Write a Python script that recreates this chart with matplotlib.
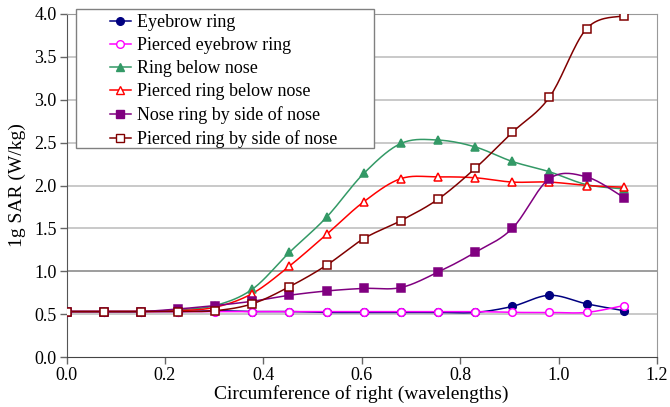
import numpy as np
import matplotlib
matplotlib.use("Agg")
import matplotlib.pyplot as plt
from matplotlib.lines import Line2D
from matplotlib.patches import Rectangle

plt.rcParams['font.family'] = ['Liberation Serif', 'DejaVu Serif']

# circumference (wavelengths)
x = [0.0, 0.0755, 0.151, 0.2265, 0.302, 0.3775, 0.453, 0.5285,
     0.604, 0.6795, 0.755, 0.8305, 0.906, 0.9815, 1.057, 1.1325]

eyebrow = [0.53, 0.53, 0.53, 0.53, 0.54, 0.53, 0.53, 0.52,
           0.52, 0.52, 0.52, 0.52, 0.59, 0.72, 0.62, 0.54]
pierced_eyebrow = [0.53, 0.53, 0.53, 0.53, 0.53, 0.53, 0.53, 0.53,
                   0.53, 0.53, 0.53, 0.53, 0.52, 0.52, 0.52, 0.60]
below_nose = [0.53, 0.53, 0.53, 0.55, 0.60, 0.79, 1.22, 1.63,
              2.14, 2.49, 2.53, 2.45, 2.28, 2.16, 2.01, 1.96]
pierced_below_nose = [0.53, 0.53, 0.53, 0.54, 0.58, 0.74, 1.06, 1.43,
                      1.81, 2.08, 2.10, 2.09, 2.04, 2.04, 2.00, 1.98]
side_nose = [0.53, 0.53, 0.53, 0.56, 0.60, 0.65, 0.72, 0.77,
             0.80, 0.81, 0.99, 1.22, 1.50, 2.08, 2.10, 1.86]
pierced_side_nose = [0.53, 0.53, 0.53, 0.53, 0.54, 0.62, 0.82, 1.07,
                     1.38, 1.59, 1.84, 2.20, 2.62, 3.03, 3.83, 3.98]

series = [
    ("Eyebrow ring", eyebrow, "#000080", "o", True),
    ("Pierced eyebrow ring", pierced_eyebrow, "#FF00FF", "o", False),
    ("Ring below nose", below_nose, "#339966", "^", True),
    ("Pierced ring below nose", pierced_below_nose, "#FF0000", "^", False),
    ("Nose ring by side of nose", side_nose, "#800080", "s", True),
    ("Pierced ring by side of nose", pierced_side_nose, "#800000", "s", False),
]


def smooth(xs, ys, n=20):
    # Excel-like smoothed line (Catmull-Rom as cubic Bezier)
    xs = np.asarray(xs, float)
    ys = np.asarray(ys, float)
    px, py = [], []
    for i in range(len(xs) - 1):
        i0 = max(i - 1, 0)
        i3 = min(i + 2, len(xs) - 1)
        p0 = np.array([xs[i], ys[i]])
        p3 = np.array([xs[i + 1], ys[i + 1]])
        c1 = p0 + (p3 - np.array([xs[i0], ys[i0]])) / 6.0
        c2 = p3 - (np.array([xs[i3], ys[i3]]) - p0) / 6.0
        t = np.linspace(0, 1, n)[:, None]
        pts = ((1 - t) ** 3 * p0 + 3 * (1 - t) ** 2 * t * c1
               + 3 * (1 - t) * t ** 2 * c2 + t ** 3 * p3)
        px.extend(pts[:, 0])
        py.extend(pts[:, 1])
    return px, py


W, H = 670, 407
fig = plt.figure(figsize=(6.7, 4.07), dpi=100)
ax = fig.add_axes([66.5 / W, 50 / H, 590.5 / W, 343 / H])

for yv in np.arange(0.5, 4.01, 0.5):
    ax.axhline(yv, color="#8c8c8c" if yv == 1.0 else "#c0c0c0", lw=1.2, zorder=0)

handles = []
for name, ys, col, mk, filled in series:
    sx, sy = smooth(x, ys)
    ax.plot(sx, sy, color=col, lw=1.1, zorder=2)
    fc = col if filled else "white"
    ms = 5.5 if mk != "^" else 6
    ax.plot(x, ys, linestyle="none", marker=mk, markersize=ms,
            markerfacecolor=fc, markeredgecolor=col, markeredgewidth=1.1, zorder=3)
    handles.append(Line2D([], [], color=col, lw=1.1, marker=mk, markersize=ms,
                          markerfacecolor=fc, markeredgecolor=col, label=name))

ax.set_xlim(0, 1.2)
ax.set_ylim(0, 4.0)
ax.set_xticks(np.arange(0, 1.21, 0.2))
ax.set_yticks(np.arange(0, 4.01, 0.5))
ax.xaxis.set_major_formatter(plt.FormatStrFormatter("%.1f"))
ax.yaxis.set_major_formatter(plt.FormatStrFormatter("%.1f"))
ax.tick_params(direction="out", length=5, labelsize=13, width=1, color="#666666")
ax.tick_params(axis="x", pad=2)
ax.tick_params(axis="y", pad=2)
for s in ["top", "right"]:
    ax.spines[s].set_color("#999999")
ax.spines["left"].set_color("#555555")
ax.spines["bottom"].set_color("#444444")

ax.set_xlabel("Circumference of right (wavelengths)", fontsize=14, labelpad=1)
ax.set_ylabel("1g SAR (W/kg)", fontsize=14, labelpad=6)

# legend box drawn by hand, entries placed inside it
fig.patches.append(Rectangle((76 / W, 1 - 148 / H), 298 / W, 139 / H,
                             transform=fig.transFigure, facecolor="white",
                             edgecolor="#808080", lw=1.0, zorder=4))
leg = fig.legend(handles=handles, loc="upper left",
                 bbox_to_anchor=(110 / W, 1 - 14 / H), fontsize=13,
                 frameon=False, handlelength=1.15,
                 handletextpad=0.35, borderpad=0, labelspacing=0.34,
                 borderaxespad=0)
leg.set_zorder(5)

fig.savefig("out.png", dpi=100)
